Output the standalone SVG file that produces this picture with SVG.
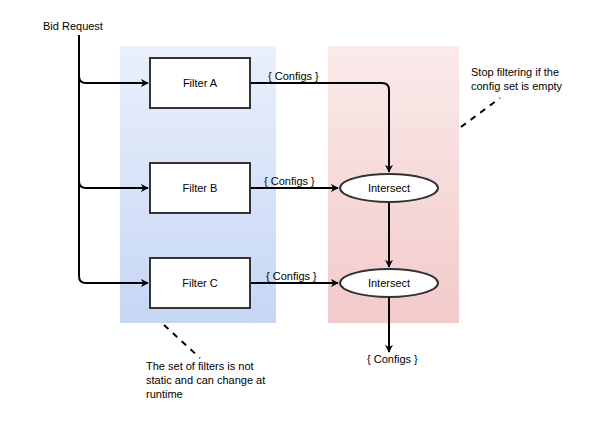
<svg xmlns="http://www.w3.org/2000/svg" width="607" height="423" viewBox="0 0 607 423">
<style>
text{font-family:"Liberation Sans",Arial,sans-serif;font-size:11px;fill:#000}
.box{fill:#fff;stroke:#333;stroke-width:2}
.c{fill:none;stroke:#000;stroke-width:2}
.d{fill:none;stroke:#000;stroke-width:2;stroke-dasharray:6 6}
</style>
<defs>
<linearGradient id="gb" x1="0" y1="0" x2="0" y2="1"><stop offset="0" stop-color="#eaf0fc"/><stop offset="1" stop-color="#c5d6f4"/></linearGradient>
<linearGradient id="gp" x1="0" y1="0" x2="0" y2="1"><stop offset="0" stop-color="#fbeaea"/><stop offset="1" stop-color="#f2caca"/></linearGradient>
<marker id="a" viewBox="0 0 10 10" refX="9" refY="5" markerWidth="8" markerHeight="8" markerUnits="userSpaceOnUse" orient="auto"><path d="M0,0 L10,5 L0,10 L3,5 Z" fill="#000"/></marker>
</defs>
<rect x="120" y="46" width="156" height="277" fill="url(#gb)"/>
<rect x="328" y="46" width="131" height="277" fill="url(#gp)"/>
<g id="connectors">
<path class="c" d="M79,35 V76 Q79,83 86,83 H148" marker-end="url(#a)"/>
<path class="c" d="M79,76 V181 Q79,188 86,188 H148" marker-end="url(#a)"/>
<path class="c" d="M79,181 V276 Q79,283 86,283 H148" marker-end="url(#a)"/>
<path class="c" d="M250,83 H382 Q389,83 389,90 V172" marker-end="url(#a)"/>
<path class="c" d="M250,188 H338" marker-end="url(#a)"/>
<path class="c" d="M250,283 H338" marker-end="url(#a)"/>
<path class="c" d="M389,202 V267" marker-end="url(#a)"/>
<path class="c" d="M389,297 V352" marker-end="url(#a)"/>
<path class="d" d="M461,127 L500,98"/>
<path class="d" d="M164,325 L200,358"/>
</g>
<text x="43" y="30">Bid Request</text>
<g id="filterA"><rect class="box" x="150" y="58" width="100" height="50"/><text x="200" y="87" text-anchor="middle">Filter A</text></g>
<g id="filterB"><rect class="box" x="150" y="163" width="100" height="50"/><text x="200" y="192" text-anchor="middle">Filter B</text></g>
<g id="filterC"><rect class="box" x="150" y="258" width="100" height="50"/><text x="200" y="287" text-anchor="middle">Filter C</text></g>
<g id="intersect1"><ellipse class="box" cx="389" cy="188" rx="49" ry="14"/><text x="389" y="192" text-anchor="middle">Intersect</text></g>
<g id="intersect2"><ellipse class="box" cx="389" cy="283" rx="49" ry="14"/><text x="389" y="287" text-anchor="middle">Intersect</text></g>
<text x="268" y="80">{ Configs }</text>
<text x="264" y="185">{ Configs }</text>
<text x="266" y="280">{ Configs }</text>
<text x="367" y="363">{ Configs }</text>
<text x="471" y="76">Stop filtering if the</text>
<text x="471" y="90">config set is empty</text>
<text x="146" y="370">The set of filters is not</text>
<text x="146" y="384">static and can change at</text>
<text x="146" y="398">runtime</text>
</svg>
